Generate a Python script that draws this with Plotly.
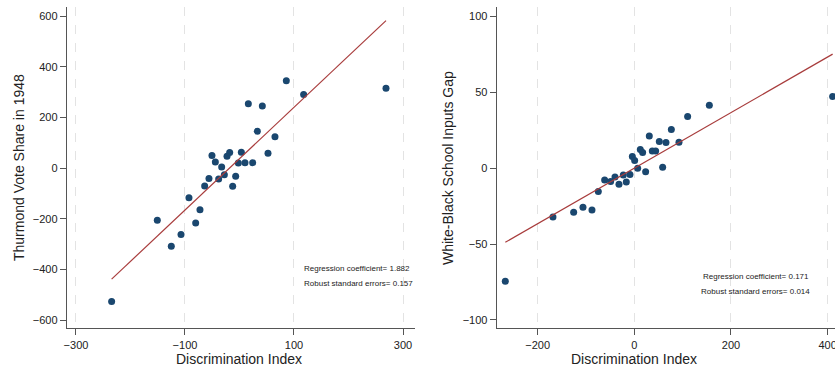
import plotly.graph_objects as go

# Left panel: Discrimination index vs Thurmond vote share
left_x = [-234.6, -150.8, -125.1, -107.3, -92.7, -80.4, -72.5, -63.9, -56.0, -50.5,
          -44.3, -38.2, -32.7, -27.8, -22.9, -18.0, -12.5, -7.0, -2.1, 3.4,
          10.1, 16.2, 24.2, 32.7, 41.9, 52.3, 65.1, 85.9, 117.7, 268.8]
left_y = [-526, -205, -308, -262, -117, -216, -164, -70, -41, 50,
          25, -43, 5, -26, 47, 62, -71, -32, 21, 63,
          22, 255, 22, 146, 246, 59, 124, 345, 291, 316]
left_fit = (37.8, 2.028)  # intercept, slope of drawn fit line
left_text = ["Regression coefficient= 1.882", "Robust standard errors= 0.157"]

# Right panel: Discrimination index vs White-Black school inputs gap
right_x = [-266.9, -168.3, -125.5, -106.2, -87.6, -74.5, -61.4, -49.0, -40.0, -31.7,
           -22.8, -16.6, -9.0, -4.1, 0.7, 6.9, 12.4, 17.2, 23.4, 31.0,
           37.2, 44.1, 51.7, 58.6, 65.5, 76.6, 92.4, 110.3, 155.2, 410.3]
right_y = [-74.5, -32.1, -29.0, -25.7, -27.5, -15.4, -7.7, -8.8, -5.7, -10.5,
           -4.4, -9.0, -4.2, 7.7, 5.1, 0.0, 12.3, 10.3, -2.4, 21.3,
           11.4, 11.4, 17.6, 0.7, 16.9, 25.5, 17.1, 34.1, 41.5, 47.3]
right_fit = (0.05, 0.1832)
right_text = ["Regression coefficient= 0.171", "Robust standard errors= 0.014"]

left_xticks = [-300, -100, 100, 300]
left_yticks = [-600, -400, -200, 0, 200, 400, 600]
right_xticks = [-200, 0, 200, 400]
right_yticks = [-100, -50, 0, 50, 100]

MARKER = "#1a476f"
LINE = "#a83c3c"
FONT = "Liberation Sans, Arial, sans-serif"

fig = go.Figure()

def add_panel(xs, ys, fit, xa, ya):
    fig.add_trace(go.Scatter(x=xs, y=ys, mode="markers", xaxis=xa, yaxis=ya,
                             marker=dict(color=MARKER, size=7), showlegend=False,
                             hoverinfo="x+y"))
    x0, x1 = min(xs), max(xs)
    fig.add_trace(go.Scatter(x=[x0, x1], y=[fit[0] + fit[1] * x0, fit[0] + fit[1] * x1],
                             mode="lines", xaxis=xa, yaxis=ya,
                             line=dict(color=LINE, width=1.2), showlegend=False))

add_panel(left_x, left_y, left_fit, "x", "y")
add_panel(right_x, right_y, right_fit, "x2", "y2")

axis_common = dict(showline=True, linecolor="#555555", linewidth=1, ticks="outside",
                   ticklen=6, tickcolor="#555555", tickfont=dict(size=11, color="#222222", family=FONT),
                   zeroline=False, mirror=False, automargin=False, ticklabeloverflow="allow")

ydom = [0.1127, 0.980]
fig.update_layout(
    width=835, height=370,
    margin=dict(l=0, r=0, t=0, b=0, autoexpand=False),
    paper_bgcolor="white", plot_bgcolor="white",
    font=dict(family=FONT),
    xaxis=dict(domain=[0.0799, 0.497], range=[-317, 322], tickvals=left_xticks,
               showgrid=True, gridcolor="#e3e3e3", griddash="dash", gridwidth=1, **axis_common),
    yaxis=dict(domain=ydom, range=[-632, 635], tickvals=left_yticks, showgrid=False, **axis_common),
    xaxis2=dict(domain=[0.5948, 1.0], range=[-284.8, 415.2], tickvals=right_xticks, anchor="y2",
                showgrid=True, gridcolor="#e3e3e3", griddash="dash", gridwidth=1, **axis_common),
    yaxis2=dict(domain=ydom, range=[-105.5, 106], tickvals=right_yticks, anchor="x2",
                showgrid=False, **axis_common),
)

ann = []
# Axis titles
ann.append(dict(text="Discrimination Index", x=239.5 / 835, y=(370 - 359) / 370, xref="paper", yref="paper",
                showarrow=False, font=dict(size=14, color="#222222"), xanchor="center", yanchor="middle"))
ann.append(dict(text="Discrimination Index", x=634.3 / 835, y=(370 - 359) / 370, xref="paper", yref="paper",
                showarrow=False, font=dict(size=14, color="#222222"), xanchor="center", yanchor="middle"))
ann.append(dict(text="Thurmond Vote Share in 1948", x=19 / 835, y=(370 - 168) / 370, xref="paper", yref="paper",
                showarrow=False, textangle=-90, font=dict(size=14, color="#222222"),
                xanchor="center", yanchor="middle"))
ann.append(dict(text="White-Black School Inputs Gap", x=448 / 835, y=(370 - 168) / 370, xref="paper", yref="paper",
                showarrow=False, textangle=-90, font=dict(size=14, color="#222222"),
                xanchor="center", yanchor="middle"))
# Regression text
for i, t in enumerate(left_text):
    ann.append(dict(text=t, x=302 / 835, y=(370 - (268 + 15 * i)) / 370, xref="paper", yref="paper",
                    showarrow=False, font=dict(size=8, color="#222222"), xanchor="left", yanchor="middle"))
for i, t in enumerate(right_text):
    ann.append(dict(text=t, x=755.5 / 835, y=(370 - (276 + 15 * i)) / 370, xref="paper", yref="paper",
                    showarrow=False, font=dict(size=8, color="#222222"), xanchor="center", yanchor="middle"))
fig.update_layout(annotations=ann)

fig.write_html("out.html", config={"displayModeBar": False},
               post_script="document.body.style.margin='0';document.body.style.overflow='hidden';")
